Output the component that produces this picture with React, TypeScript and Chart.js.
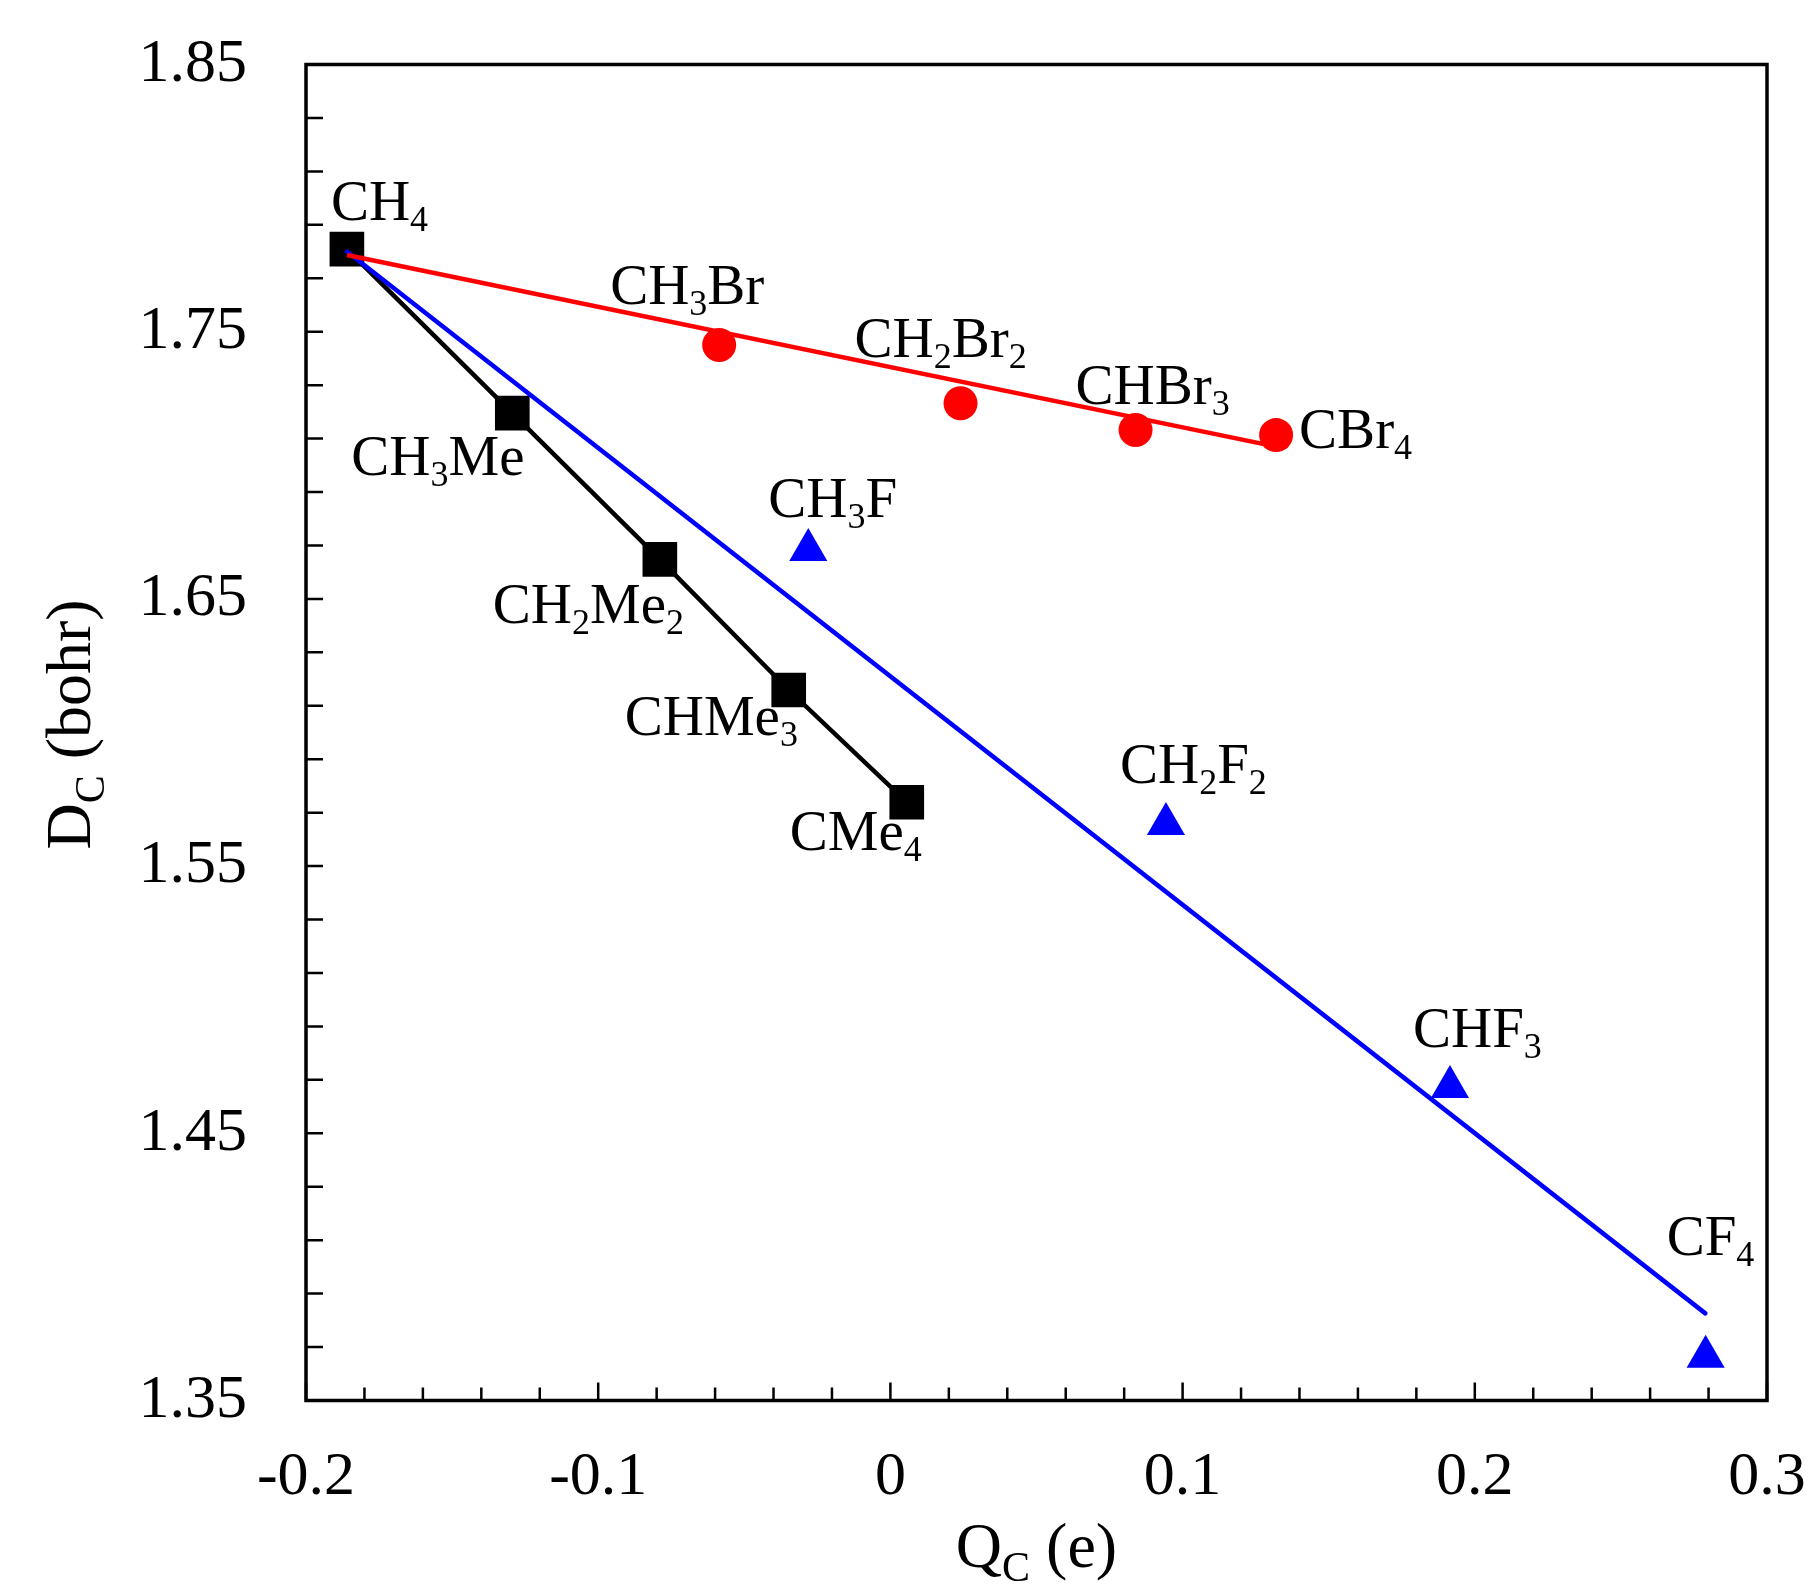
import React, { useEffect, useRef } from 'react';
import { Chart, registerables } from 'chart.js';

Chart.register(...registerables);

// ---------------- data ----------------
const meCharge = [-0.186, -0.1294, -0.0789, -0.0348, 0.0056];
const meDist = [1.7809, 1.7195, 1.6648, 1.6159, 1.5739];
const meNames = ['CH_{4}', 'CH_{3}Me', 'CH_{2}Me_{2}', 'CHMe_{3}', 'CMe_{4}'];

const brCharge = [-0.0586, 0.024, 0.0839, 0.132];
const brDist = [1.745, 1.7232, 1.7132, 1.7113];
const brNames = ['CH_{3}Br', 'CH_{2}Br_{2}', 'CHBr_{3}', 'CBr_{4}'];

const fCharge = [-0.0281, 0.0943, 0.1915, 0.279];
const fDist = [1.6683, 1.5658, 1.4673, 1.3664];
const fNames = ['CH_{3}F', 'CH_{2}F_{2}', 'CHF_{3}', 'CF_{4}'];

const brFitCharge = [-0.186, 0.132];
const brFitDist = [1.7787, 1.707];
const fFitCharge = [-0.186, 0.2789];
const fFitDist = [1.78, 1.3826];

const xMajorTicks = [-0.2, -0.1, 0, 0.1, 0.2, 0.3];
const xTickLabels = ['-0.2', '-0.1', '0', '0.1', '0.2', '0.3'];
const yMajorTicks = [1.35, 1.45, 1.55, 1.65, 1.75, 1.85];
const yTickLabels = ['1.35', '1.45', '1.55', '1.65', '1.75', '1.85'];
const minorDivisions = 5;

const xTitle = 'Q_{C} (e)';
const yTitle = 'D_{C} (bohr)';

// ---------------- layout / style ----------------
const FONT = '"Liberation Serif", "Times New Roman", serif';
// label placement: pixel offset of text (left, baseline) from its marker
const meLabelOffsets = [[-16, -29], [-161, 62], [-167, 64], [-164, 45], [-117, 48]];
const brLabelOffsets = [[-109, -41], [-106, -46], [-60, -26], [23, 13]];
const fLabelOffsets = [[-40, -33], [-46, -41], [-37, -40], [-39, -102]];

type Part = { t: string; sub: boolean };
function parseRich(s: string): Part[] {
  const parts: Part[] = [];
  const re = /_\{([^}]*)\}/g;
  let last = 0;
  let m: RegExpExecArray | null;
  while ((m = re.exec(s))) {
    if (m.index > last) parts.push({ t: s.slice(last, m.index), sub: false });
    parts.push({ t: m[1], sub: true });
    last = re.lastIndex;
  }
  if (last < s.length) parts.push({ t: s.slice(last), sub: false });
  return parts;
}
function richWidth(ctx: CanvasRenderingContext2D, parts: Part[], size: number, subSize: number) {
  let w = 0;
  for (const p of parts) {
    ctx.font = `${p.sub ? subSize : size}px ${FONT}`;
    w += ctx.measureText(p.t).width;
  }
  return w;
}
function drawRich(ctx: CanvasRenderingContext2D, s: string, x: number, y: number, size: number, subSize: number, drop: number, center = false) {
  const parts = parseRich(s);
  let cx = x;
  if (center) cx = x - richWidth(ctx, parts, size, subSize) / 2;
  ctx.textAlign = 'left';
  ctx.textBaseline = 'alphabetic';
  for (const p of parts) {
    ctx.font = `${p.sub ? subSize : size}px ${FONT}`;
    ctx.fillText(p.t, cx, p.sub ? y + drop : y);
    cx += ctx.measureText(p.t).width;
  }
}

function toPoints(xs: number[], ys: number[]) {
  return xs.map((x, i) => ({ x, y: ys[i] }));
}

const framePlugin = {
  id: 'frameAndLabels',
  afterDraw(chart: any) {
    const ctx: CanvasRenderingContext2D = chart.ctx;
    const { left, right, top, bottom } = chart.chartArea;
    const xs = chart.scales.x;
    const ys = chart.scales.y;
    ctx.save();
    ctx.strokeStyle = '#000';
    ctx.fillStyle = '#000';
    // ticks (inside)
    ctx.lineWidth = 2.5;
    ctx.beginPath();
    for (let i = 0; i < xMajorTicks.length; i++) {
      const steps = i < xMajorTicks.length - 1 ? minorDivisions : 1;
      for (let k = 0; k < steps; k++) {
        const v = i < xMajorTicks.length - 1
          ? xMajorTicks[i] + (k * (xMajorTicks[i + 1] - xMajorTicks[i])) / minorDivisions
          : xMajorTicks[i];
        const px = xs.getPixelForValue(v);
        const len = k === 0 ? 18 : 13;
        ctx.moveTo(px, bottom);
        ctx.lineTo(px, bottom - len);
      }
    }
    for (let i = 0; i < yMajorTicks.length; i++) {
      const steps = i < yMajorTicks.length - 1 ? minorDivisions : 1;
      for (let k = 0; k < steps; k++) {
        const v = i < yMajorTicks.length - 1
          ? yMajorTicks[i] + (k * (yMajorTicks[i + 1] - yMajorTicks[i])) / minorDivisions
          : yMajorTicks[i];
        const py = ys.getPixelForValue(v);
        ctx.moveTo(left, py);
        ctx.lineTo(left + 17, py);
      }
    }
    ctx.stroke();
    // frame
    ctx.lineWidth = 3.5;
    ctx.strokeRect(left, top, right - left, bottom - top);

    // point labels
    const groups: [number, string[], number[][]][] = [
      [2, meNames, meLabelOffsets],
      [3, brNames, brLabelOffsets],
      [4, fNames, fLabelOffsets],
    ];
    for (const [di, names, offs] of groups) {
      const meta = chart.getDatasetMeta(di);
      names.forEach((n, j) => {
        const el = meta.data[j];
        drawRich(ctx, n, el.x + offs[j][0], el.y + offs[j][1], 57, 36, 11);
      });
    }

    // axis titles
    drawRich(ctx, xTitle, (left + right) / 2, bottom + 166, 64, 42, 14, true);
    ctx.save();
    ctx.translate(left - 216, (top + bottom) / 2 - 8);
    ctx.rotate(-Math.PI / 2);
    drawRich(ctx, yTitle, 0, 0, 64, 42, 14, true);
    ctx.restore();
    ctx.restore();
  },
};

function zeroPadding(s: any) {
  s.paddingTop = 0;
  s.paddingBottom = 0;
  s.paddingLeft = 0;
  s.paddingRight = 0;
}

export default function App() {
  const ref = useRef<HTMLCanvasElement | null>(null);
  useEffect(() => {
    if (!ref.current) return;
    const tickFont = { family: FONT, size: 62 };
    const chart = new Chart(ref.current, {
      type: 'scatter',
      data: {
        datasets: [
          {
            label: 'Br fit',
            data: toPoints(brFitCharge, brFitDist),
            showLine: true,
            borderColor: '#ff0000',
            borderWidth: 4.5,
            pointRadius: 0,
            order: 0,
          },
          {
            label: 'F fit',
            data: toPoints(fFitCharge, fFitDist),
            showLine: true,
            borderColor: '#0000ff',
            borderWidth: 4.5,
            borderCapStyle: 'round',
            pointRadius: 0,
            order: 1,
          },
          {
            label: 'Me',
            data: toPoints(meCharge, meDist),
            showLine: true,
            borderColor: '#000000',
            borderWidth: 4.5,
            pointStyle: 'rect',
            pointRadius: 24.5,
            pointBackgroundColor: '#000000',
            pointBorderWidth: 0,
            order: 2,
          },
          {
            label: 'Br',
            data: toPoints(brCharge, brDist),
            showLine: false,
            pointStyle: 'circle',
            pointRadius: 17,
            pointBackgroundColor: '#ff0000',
            pointBorderColor: '#ff0000',
            pointBorderWidth: 0,
            order: 3,
          },
          {
            label: 'F',
            data: toPoints(fCharge, fDist),
            showLine: false,
            pointStyle: 'triangle',
            pointRadius: 22,
            pointBackgroundColor: '#0000ff',
            pointBorderColor: '#0000ff',
            pointBorderWidth: 0,
            order: 4,
          },
        ],
      },
      options: {
        animation: false,
        responsive: false,
        devicePixelRatio: 1,
        events: [],
        layout: { autoPadding: false, padding: { top: 64.5, right: 41, bottom: 0, left: 0 } },
        plugins: { legend: { display: false }, tooltip: { enabled: false } },
        scales: {
          x: {
            type: 'linear',
            position: 'bottom',
            min: -0.2,
            max: 0.3,
            grid: { display: false, drawTicks: false },
            border: { display: false },
            ticks: {
              font: tickFont,
              color: '#000',
              padding: 40,
              autoSkip: false,
              maxRotation: 0,
              callback: (_v: any, i: number) => xTickLabels[i],
            },
            afterBuildTicks: (s: any) => {
              s.ticks = xMajorTicks.map((v) => ({ value: v }));
            },
            afterFit: (s: any) => {
              s.height = 187.5;
              zeroPadding(s);
            },
          },
          y: {
            type: 'linear',
            position: 'left',
            min: 1.35,
            max: 1.85,
            grid: { display: false, drawTicks: false },
            border: { display: false },
            ticks: {
              font: tickFont,
              color: '#000',
              padding: 59,
              autoSkip: false,
              callback: (_v: any, i: number) => yTickLabels[i],
            },
            afterBuildTicks: (s: any) => {
              s.ticks = yMajorTicks.map((v) => ({ value: v }));
            },
            afterFit: (s: any) => {
              s.width = 306;
              zeroPadding(s);
            },
          },
        },
      } as any,
      plugins: [framePlugin],
    });
    return () => chart.destroy();
  }, []);
  return (
    <div style={{ position: 'absolute', left: 0, top: 0, width: 1808, height: 1588, background: '#fff' }}>
      <canvas ref={ref} width={1808} height={1588} style={{ width: 1808, height: 1588, display: 'block' }} />
    </div>
  );
}
